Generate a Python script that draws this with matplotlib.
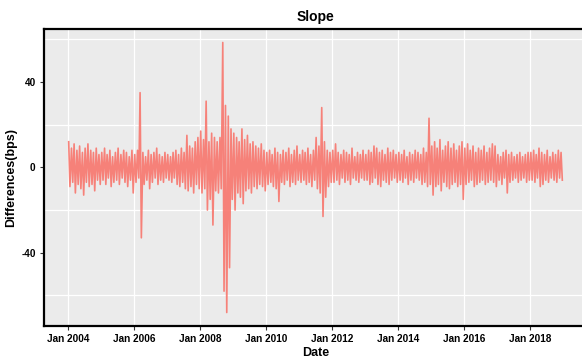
import numpy as np
import pandas as pd
import matplotlib
matplotlib.use("Agg")
import matplotlib.pyplot as plt
import matplotlib.dates as mdates

# --- data: monthly high / low of the daily slope differences (bps), 2004-2018 ---
YEARS = list(range(2004, 2019))

MONTH_HIGH = [
    [12, 9, 11, 8, 10, 7, 9, 11, 8, 7, 9, 6],        # 2004
    [7, 9, 6, 8, 5, 7, 9, 6, 8, 7, 5, 8],            # 2005
    [6, 8, 35, 7, 5, 8, 6, 7, 9, 6, 5, 7],           # 2006
    [6, 5, 7, 8, 6, 9, 7, 15, 10, 9, 12, 14],        # 2007
    [17, 13, 31, 12, 16, 14, 12, 14, 58.5, 29, 24, 18],  # 2008
    [16, 14, 12, 18, 13, 15, 11, 12, 10, 9, 11, 8],  # 2009
    [7, 8, 6, 9, 7, 6, 8, 7, 9, 6, 8, 10],           # 2010
    [6, 8, 7, 9, 6, 8, 14, 10, 28, 12, 8, 7],        # 2011
    [8, 11, 7, 6, 8, 7, 6, 9, 5, 7, 6, 8],           # 2012
    [6, 8, 7, 10, 9, 7, 8, 6, 9, 7, 8, 6],           # 2013
    [7, 6, 8, 5, 7, 6, 8, 7, 6, 9, 7, 23],           # 2014
    [10, 12, 9, 13, 8, 10, 12, 9, 11, 8, 10, 12],    # 2015
    [9, 11, 8, 10, 7, 9, 8, 10, 7, 9, 11, 10],       # 2016
    [6, 5, 7, 8, 6, 7, 5, 6, 7, 5, 6, 7],            # 2017
    [7, 8, 6, 9, 7, 6, 8, 5, 7, 6, 8, 7],            # 2018
]

MONTH_LOW = [
    [-9, -7, -12, -8, -10, -13, -7, -9, -8, -11, -6, -8],
    [-6, -8, -5, -9, -7, -6, -8, -5, -7, -9, -6, -12],
    [-7, -5, -33, -8, -6, -10, -7, -5, -8, -6, -7, -5],
    [-6, -7, -5, -8, -9, -7, -10, -11, -9, -12, -8, -10],
    [-12, -10, -20, -15, -27, -11, -12, -10, -58, -68, -47, -15],
    [-20, -12, -14, -17, -11, -10, -12, -9, -10, -8, -9, -11],
    [-8, -7, -9, -10, -16, -7, -8, -6, -9, -7, -8, -6],
    [-7, -6, -8, -7, -9, -6, -10, -12, -23, -14, -9, -7],
    [-7, -6, -8, -5, -7, -6, -8, -5, -6, -7, -5, -6],
    [-6, -8, -7, -5, -8, -9, -6, -7, -8, -6, -5, -7],
    [-6, -7, -5, -8, -6, -7, -5, -6, -8, -7, -9, -8],
    [-13, -9, -8, -11, -7, -9, -10, -8, -7, -9, -8, -15],
    [-8, -7, -6, -9, -8, -7, -6, -8, -7, -6, -7, -9],
    [-6, -8, -5, -12, -7, -6, -5, -7, -6, -5, -7, -6],
    [-6, -7, -5, -9, -8, -6, -7, -5, -6, -7, -5, -6],
]

# build the series: high early in each month, low later in the month
dates, values = [], []
for yi, year in enumerate(YEARS):
    for m in range(12):
        start = pd.Timestamp(year=year, month=m + 1, day=1)
        dates.append(start + pd.Timedelta(days=7))
        values.append(MONTH_HIGH[yi][m])
        dates.append(start + pd.Timedelta(days=21))
        values.append(MONTH_LOW[yi][m])
series = pd.Series(values, index=pd.DatetimeIndex(dates))

plt.rcParams["font.family"] = ["Liberation Sans", "DejaVu Sans"]
plt.rcParams["axes.unicode_minus"] = False

fig = plt.figure(figsize=(5.82, 3.58), dpi=100)
ax = fig.add_axes([44 / 582, 32 / 358, 543 / 582, 297 / 358])
ax.set_facecolor("#EBEBEB")

ax.plot(series.index, series.values, color="#F8766D", lw=1.2, alpha=0.9)
ax.margins(x=0.05, y=0.05)

# even years labelled, odd years carry the grid
odd_years = mdates.rrulewrapper(mdates.YEARLY, bymonth=1, bymonthday=1,
                                dtstart=pd.Timestamp("2003-01-01").to_pydatetime(), interval=2)
ax.xaxis.set_major_locator(mdates.YearLocator(2, month=1, day=1))
ax.xaxis.set_minor_locator(mdates.RRuleLocator(odd_years))
ax.xaxis.set_major_formatter(mdates.DateFormatter("%b %Y"))
ax.set_yticks([-40, 0, 40])
ax.set_yticks([-60, -20, 20, 60], minor=True)

ax.grid(False)
ax.grid(which="minor", color="white", lw=0.9)
ax.set_axisbelow(True)

ax.tick_params(which="major", length=3, width=0.8, color="#333333",
               labelsize=7.2, labelcolor="black", pad=3)
ax.tick_params(which="minor", length=0)
for lab in ax.get_xticklabels() + ax.get_yticklabels():
    lab.set_fontweight("bold")

for sp in ax.spines.values():
    sp.set_color("black")
    sp.set_linewidth(1.6)

ax.set_title("Slope", fontsize=10, fontweight="bold", pad=6)
ax.set_xlabel("Date", fontsize=9, fontweight="bold", labelpad=2)
ax.set_ylabel("Differences(bps)", fontsize=9, fontweight="bold", labelpad=3)

fig.savefig("out.png", dpi=100)
